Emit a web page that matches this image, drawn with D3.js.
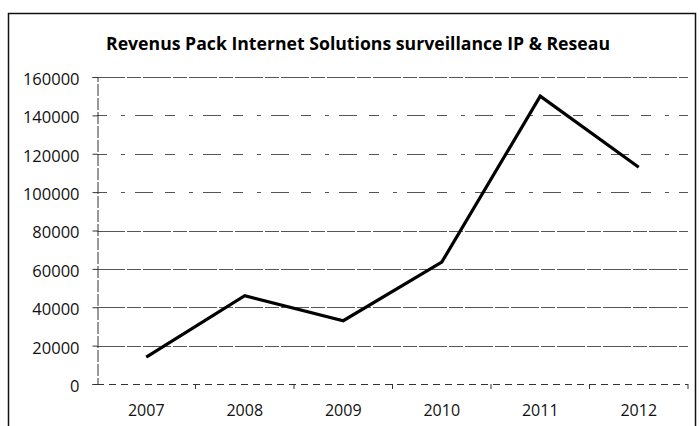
<!DOCTYPE html>
<html><head><meta charset="utf-8">
<script src="https://cdn.jsdelivr.net/npm/d3@7"></script>
<style>body{margin:0;background:#fff}svg{display:block}</style>
</head><body>
<svg id="c" width="700" height="426"></svg>
<script>
const categories = ["2007","2008","2009","2010","2011","2012"];
const revenues = [14000, 46000, 33000, 63500, 150000, 113000];
const yTicks = [0,20000,40000,60000,80000,100000,120000,140000,160000];
const title = "Revenus Pack Internet Solutions surveillance IP & Reseau";

const svg = d3.select("#c");
const font = "'Open Sans', sans-serif";
// outer frame
svg.append("rect").attr("x",8.5).attr("y",13.5).attr("width",687).attr("height",430)
  .attr("fill","none").attr("stroke","#111").attr("stroke-width",1.5);

const x = d3.scaleBand().domain(categories).range([97,688]);
const y = d3.scaleLinear().domain([0,160000]).range([384,77]);

// gridlines
const dashFor = v => (v>=100000 && v<=140000) ? "10,14,4,10,18,12" : (v===0 ? "7,5" : "28,2,14,2");
svg.append("g").selectAll("line").data(yTicks).join("line")
  .attr("x1",97).attr("x2",688).attr("y1",d=>Math.round(y(d))+0.5).attr("y2",d=>Math.round(y(d))+0.5)
  .attr("stroke",d=>d===0?"#333":"#555").attr("stroke-width",1)
  .attr("stroke-dasharray",dashFor);

// y axis
const ya = svg.append("g").attr("transform","translate(97.5,0)")
  .call(d3.axisLeft(y).tickValues(yTicks).tickSize(5).tickPadding(13).tickFormat(d3.format("d")));
ya.select(".domain").attr("stroke","#333").attr("stroke-dasharray","12,2");
ya.selectAll(".tick line").attr("stroke","#333");
ya.selectAll("text").attr("font-family",font).attr("font-size",16.5).attr("fill","#111").attr("dy","0.45em");

// x axis
const xa = svg.append("g").attr("transform","translate(0,384.5)")
  .call(d3.axisBottom(x).tickSize(0).tickPadding(20));
xa.select(".domain").remove();
xa.selectAll("text").attr("font-family",font).attr("font-size",16).attr("fill","#111");
svg.append("g").selectAll("line").data(categories.slice(1)).join("line")
  .attr("x1",d=>x(d)).attr("x2",d=>x(d)).attr("y1",384).attr("y2",389)
  .attr("stroke","#333");
svg.append("line").attr("x1",688).attr("x2",688).attr("y1",384).attr("y2",389).attr("stroke","#333");

// line
const line = d3.line().x((d,i)=>x(categories[i])+x.bandwidth()/2).y(d=>y(d));
svg.append("path").datum(revenues).attr("d",line)
  .attr("fill","none").attr("stroke","#000").attr("stroke-width",3.2).attr("stroke-linejoin","miter");

// title
svg.append("text").attr("x",358).attr("y",49.5).attr("text-anchor","middle")
  .attr("font-family",font).attr("font-weight","bold").attr("font-size",17).attr("fill","#000")
  .attr("textLength",504).attr("lengthAdjust","spacingAndGlyphs")
  .text(title);
</script>
</body></html>
